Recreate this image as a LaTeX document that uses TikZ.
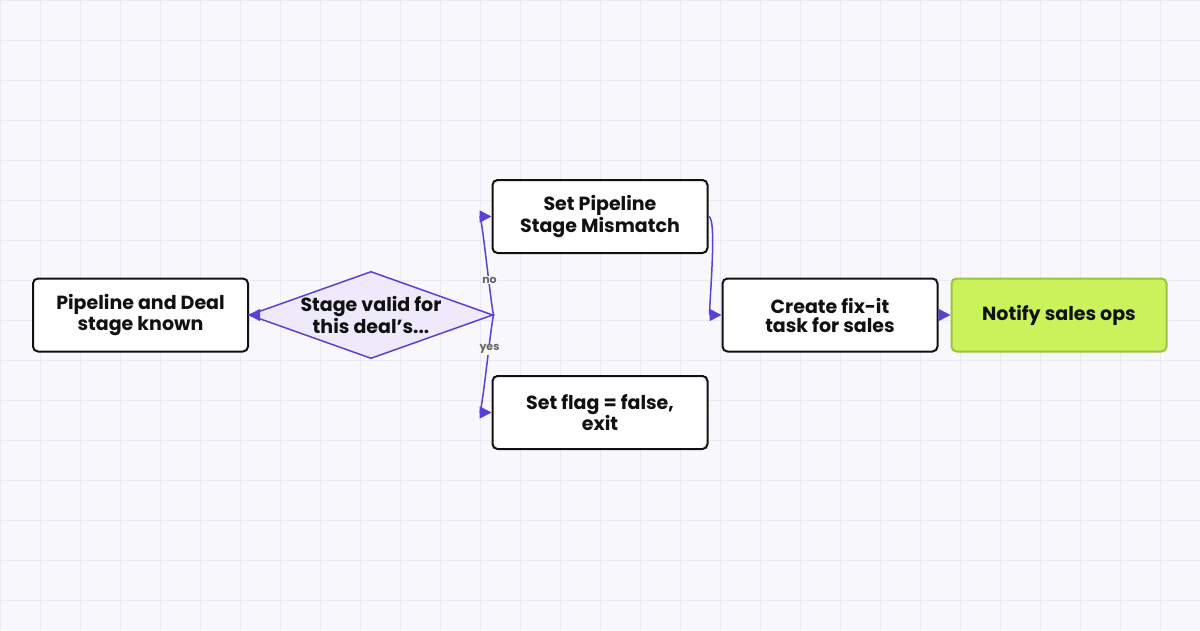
\documentclass[tikz,border=0pt]{standalone}
\usepackage{fontspec}
\setmainfont{Poppins}
\usetikzlibrary{shapes.geometric,arrows.meta}
\definecolor{bg}{HTML}{F8F8FC}
\definecolor{gridc}{HTML}{EBEAF4}
\definecolor{purp}{HTML}{5B3FD9}
\definecolor{lav}{HTML}{EEEAFC}
\definecolor{lime}{HTML}{C9F25B}
\definecolor{limed}{HTML}{9CC43A}
\definecolor{ink}{HTML}{111111}
\begin{document}
\begin{tikzpicture}[x=1pt,y=-1pt,
 box/.style={draw=ink,line width=2pt,rounded corners=5pt,fill=white,minimum width=215pt,minimum height=73pt,align=center,font=\fontsize{19}{19}\selectfont\bfseries,text=ink},
 dia/.style={diamond,draw=purp,line width=1.5pt,fill=lav,minimum width=226pt,minimum height=80pt,aspect=2.8,inner sep=0pt,align=center,font=\fontsize{19}{19}\selectfont\bfseries,text=ink},
 con/.style={draw=purp,line width=1.5pt,-{Triangle[length=12pt,width=12pt]}},
 lab/.style={font=\fontsize{11}{11}\selectfont\bfseries,text=gray!80!black,fill=bg,inner sep=1pt}]
\fill[bg] (0,0) rectangle (1200,630);
\useasboundingbox (0,0) rectangle (1200,630);
\foreach \x in {0,40,...,1200} \draw[gridc,line width=0.8pt] (\x,0) -- (\x,630);
\foreach \y in {0,40,...,640} \draw[gridc,line width=0.8pt] (0,\y) -- (1200,\y);
\node[box] (a) at (140.5,315) {Pipeline and Deal\\stage known};
\node[dia,minimum width=226pt,minimum height=80pt] (q) at (371,315) {Stage valid for\\this deal's...};
\node[box] (b) at (600,216.5) {Set Pipeline\\Stage Mismatch};
\node[box] (c) at (600,412.5) {Set flag = false,\\exit};
\node[box] (d) at (830,315) {Create fix-it\\task for sales};
\node[box,fill=lime,draw=limed] (e) at (1059,315) {Notify sales ops};
\draw[con] (a) -- (q);
\draw[con] (q.east) .. controls (492,315) and (482,216.5) .. (b.west) node[lab,pos=0.4] {no};
\draw[con] (q.east) .. controls (492,315) and (482,412.5) .. (c.west) node[lab,pos=0.4] {yes};
\draw[con] (b.east) .. controls (718,216.5) and (708,315) .. (d.west);
\draw[con] (d) -- (e);
\end{tikzpicture}
\end{document}
